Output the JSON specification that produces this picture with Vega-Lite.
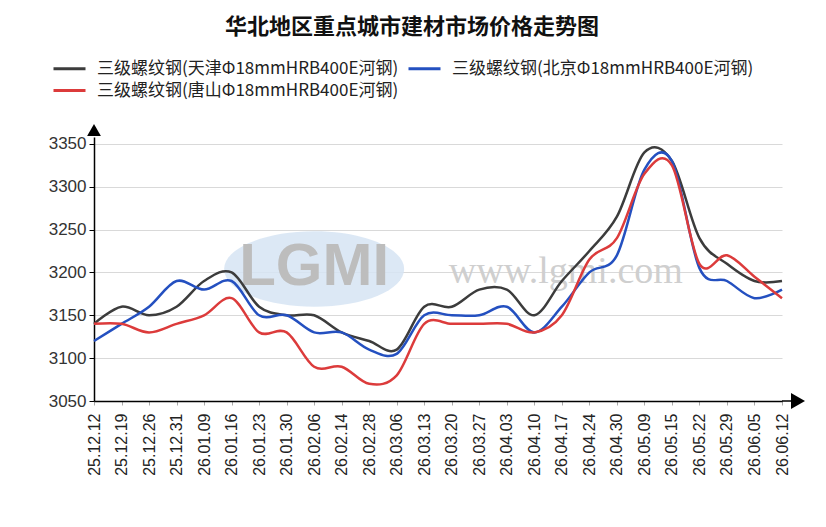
{
  "$schema": "https://vega.github.io/schema/vega-lite/v6.json",
  "autosize": "none",
  "width": 688,
  "height": 264,
  "padding": {"left": 94, "top": 137, "right": 44, "bottom": 126},
  "background": "white",
  "title": {
    "text": "华北地区重点城市建材市场价格走势图",
    "font": "Noto Sans CJK SC",
    "fontSize": 22,
    "fontWeight": "bold",
    "color": "#111",
    "anchor": "middle",
    "dx": -26,
    "offset": 20
  },
  "datasets": {
    "prices": [
      {"d": "25.12.12", "tj": 3140, "bj": 3120, "ts": 3140},
      {"d": "25.12.19", "tj": 3160, "bj": 3140, "ts": 3140},
      {"d": "25.12.26", "tj": 3150, "bj": 3160, "ts": 3130},
      {"d": "25.12.31", "tj": 3160, "bj": 3190, "ts": 3140},
      {"d": "26.01.09", "tj": 3190, "bj": 3180, "ts": 3150},
      {"d": "26.01.16", "tj": 3200, "bj": 3190, "ts": 3170},
      {"d": "26.01.23", "tj": 3160, "bj": 3150, "ts": 3130},
      {"d": "26.01.30", "tj": 3150, "bj": 3150, "ts": 3130},
      {"d": "26.02.06", "tj": 3150, "bj": 3130, "ts": 3090},
      {"d": "26.02.14", "tj": 3130, "bj": 3130, "ts": 3090},
      {"d": "26.02.28", "tj": 3120, "bj": 3110, "ts": 3070},
      {"d": "26.03.06", "tj": 3110, "bj": 3105, "ts": 3080},
      {"d": "26.03.13", "tj": 3160, "bj": 3150, "ts": 3140},
      {"d": "26.03.20", "tj": 3160, "bj": 3150, "ts": 3140},
      {"d": "26.03.27", "tj": 3180, "bj": 3150, "ts": 3140},
      {"d": "26.04.03", "tj": 3180, "bj": 3160, "ts": 3140},
      {"d": "26.04.10", "tj": 3150, "bj": 3130, "ts": 3130},
      {"d": "26.04.17", "tj": 3190, "bj": 3160, "ts": 3150},
      {"d": "26.04.24", "tj": 3225, "bj": 3200, "ts": 3215},
      {"d": "26.04.30", "tj": 3265, "bj": 3220, "ts": 3240},
      {"d": "26.05.09", "tj": 3340, "bj": 3320, "ts": 3315},
      {"d": "26.05.15", "tj": 3330, "bj": 3330, "ts": 3325},
      {"d": "26.05.22", "tj": 3240, "bj": 3205, "ts": 3210},
      {"d": "26.05.29", "tj": 3210, "bj": 3190, "ts": 3220},
      {"d": "26.06.05", "tj": 3190, "bj": 3170, "ts": 3195},
      {"d": "26.06.12", "tj": 3190, "bj": 3180, "ts": 3170}
    ],
    "one": [{}]
  },
  "data": {"name": "one"},
  "encoding": {
    "x": {
      "field": "d",
      "type": "ordinal",
      "sort": null,
      "scale": {
        "type": "point",
        "padding": 0,
        "domain": ["25.12.12", "25.12.19", "25.12.26", "25.12.31", "26.01.09", "26.01.16", "26.01.23", "26.01.30", "26.02.06", "26.02.14", "26.02.28", "26.03.06", "26.03.13", "26.03.20", "26.03.27", "26.04.03", "26.04.10", "26.04.17", "26.04.24", "26.04.30", "26.05.09", "26.05.15", "26.05.22", "26.05.29", "26.06.05", "26.06.12"]
      },
      "axis": {
        "title": null,
        "labelAngle": -90,
        "labelFont": "Liberation Sans",
        "labelFontSize": 16,
        "labelColor": "#222",
        "labelPadding": 8,
        "tickSize": 4,
        "tickColor": "#aaa",
        "domainColor": "#000",
        "domainWidth": 1.5,
        "grid": false
      }
    }
  },
  "layer": [
    {
      "mark": {"type": "point", "filled": true, "shape": "M-1,0A1,0.42,0,1,0,1,0A1,0.42,0,1,0,-1,0Z", "color": "#d6e4f3", "opacity": 0.85, "size": 32400},
      "encoding": {"x": {"datum": "26.02.06"}, "y": {"datum": 3204, "type": "quantitative"}}
    },
    {
      "mark": {"type": "text", "text": "LGMI", "font": "Liberation Sans", "fontSize": 60, "fontWeight": "bold", "color": "#bdbdbd", "baseline": "middle", "align": "center"},
      "encoding": {"x": {"datum": "26.02.06"}, "y": {"datum": 3206, "type": "quantitative"}}
    },
    {
      "mark": {"type": "text", "text": "www.lgmi.com", "font": "Liberation Serif", "fontSize": 38, "color": "#cfcfcf", "baseline": "middle", "align": "center", "dx": 4},
      "encoding": {"x": {"datum": "26.04.17"}, "y": {"datum": 3200, "type": "quantitative"}}
    },
    {
      "data": {"name": "prices"},
      "transform": [{"fold": ["tj", "bj", "ts"], "as": ["series", "price"]}],
      "mark": {"type": "line", "interpolate": "cardinal", "strokeWidth": 2.5},
      "encoding": {
        "y": {
          "field": "price",
          "type": "quantitative",
          "scale": {"domain": [3050, 3358], "nice": false, "zero": false},
          "axis": {
            "title": null,
            "values": [3050, 3100, 3150, 3200, 3250, 3300, 3350],
            "format": "d",
            "labelFont": "Liberation Sans",
            "labelFontSize": 17,
            "labelColor": "#333",
            "labelPadding": 3,
            "tickSize": 5,
            "tickColor": "#000",
            "domainColor": "#000",
            "domainWidth": 1.5,
            "grid": true,
            "gridColor": "#d9d9d9",
            "gridWidth": 1
          }
        },
        "color": {
          "field": "series",
          "type": "nominal",
          "scale": {"domain": ["tj", "bj", "ts"], "range": ["#3c3c3c", "#2450c0", "#dc3b3b"]},
          "legend": {
            "title": null,
            "orient": "none",
            "legendX": -42,
            "legendY": -78,
            "columns": 2,
            "direction": "horizontal",
            "columnPadding": 3,
            "rowPadding": 4,
            "symbolType": "M-1,0L3,0",
            "symbolSize": 256,
            "symbolStrokeWidth": 3,
            "labelOffset": 26,
            "labelFont": "Noto Sans CJK SC",
            "labelFontSize": 17,
            "labelColor": "#222",
            "labelLimit": 400,
            "labelExpr": "datum.value == 'tj' ? '三级螺纹钢(天津Φ18mmHRB400E河钢)' : datum.value == 'bj' ? '三级螺纹钢(北京Φ18mmHRB400E河钢)' : '三级螺纹钢(唐山Φ18mmHRB400E河钢)'"
          }
        }
      }
    },
    {
      "mark": {"type": "rule", "color": "#000", "strokeWidth": 1.5, "x2Offset": 10},
      "encoding": {"x": {"datum": "26.06.12"}, "x2": {"datum": "26.06.12"}, "y": {"datum": 3050, "type": "quantitative"}}
    },
    {
      "mark": {"type": "point", "shape": "triangle-right", "filled": true, "color": "#000", "opacity": 1, "size": 260, "xOffset": 16},
      "encoding": {"x": {"datum": "26.06.12"}, "y": {"datum": 3050, "type": "quantitative"}}
    },
    {
      "mark": {"type": "point", "shape": "triangle-up", "filled": true, "color": "#000", "opacity": 1, "size": 190, "yOffset": -7},
      "encoding": {"x": {"datum": "25.12.12"}, "y": {"datum": 3358, "type": "quantitative"}}
    }
  ],
  "config": {
    "view": {"stroke": null}
  }
}
